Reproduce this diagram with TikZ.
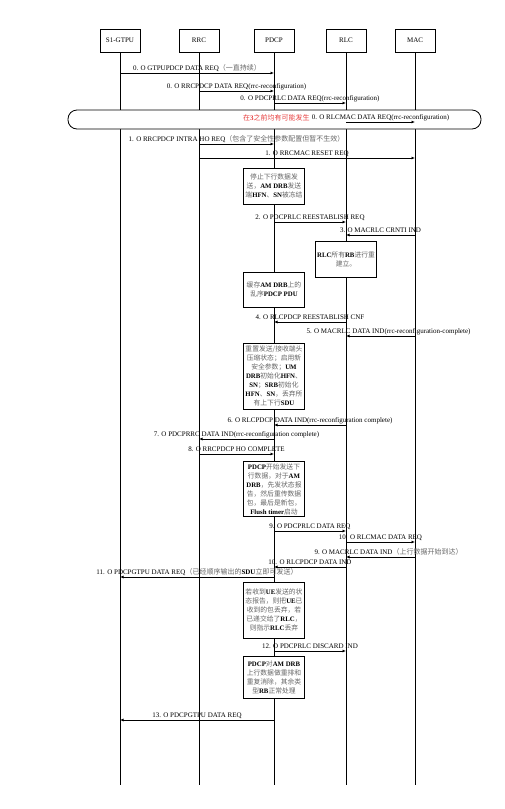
\documentclass[tikz,border=0pt]{standalone}
\usepackage{fontspec}
\setmainfont{Liberation Serif}
\newfontfamily\cjk{Noto Sans CJK SC}
\usetikzlibrary{arrows.meta,positioning}
\definecolor{warnred}{RGB}{232,64,64}
\newcommand{\zh}[1]{{\cjk\color{black!60}#1}}
\tikzset{
  head/.style={draw, line width=1pt, minimum width=40, minimum height=23, font=\fontsize{7}{8}\selectfont},
  life/.style={line width=1pt},
  msg/.style={-{Latex[length=3.5pt,width=3pt]}, line width=0.8pt},
  lbl/.style={above, midway, inner sep=0.5pt, font=\fontsize{7}{8}\selectfont, text height=5pt, text depth=1.5pt},
  note/.style={draw, line width=1pt, fill=white, align=center, minimum width=61, font=\fontsize{6.8}{9}\selectfont, inner sep=1.5pt},
}
\begin{document}
\begin{tikzpicture}[x=1pt, y=-1pt]
\useasboundingbox (0,0) rectangle (504,809);
% entities and lifelines
\node[head] (s1) at (120,40.5) {S1-GTPU};
\node[head] (rrc) at (199,40.5) {RRC};
\node[head] (pdcp) at (274,40.5) {PDCP};
\node[head] (rlc) at (346,40.5) {RLC};
\node[head] (mac) at (415,40.5) {MAC};
\coordinate (bottom) at (0,785);
\foreach \n in {s1,rrc,pdcp,rlc,mac}
  \draw[life] (\n.south) -- (\n |- bottom);

% step 0
\draw[msg] (s1 |- 0,73) -- (pdcp |- 0,73) node[lbl] {0. O GTPUPDCP DATA REQ\zh{（一直持续）}};
\draw[msg] (rrc |- 0,91) -- (pdcp |- 0,91) node[lbl] {0. O RRCPDCP DATA REQ(rrc-reconfiguration)};
\draw[msg] (pdcp |- 0,103) -- (rlc |- 0,103) node[lbl] {0. O PDCPRLC DATA REQ(rrc-reconfiguration)};
\node[draw, line width=0.8pt, fill=white, rounded corners=9, minimum width=413, minimum height=19] (frame) at (274.5,119.5) {};
\draw[msg] (rlc |- 0,122) -- (mac |- 0,122) node[lbl] (m0d) {0. O RLCMAC DATA REQ(rrc-reconfiguration)};
\node[anchor=east, inner sep=1pt, text=warnred, font=\fontsize{7}{8}\selectfont] (warn) at (m0d.west) {{\cjk 在}\textbf{3}{\cjk 之前均有可能发生}};

% handover
\draw[msg] (rrc |- 0,144) -- (pdcp |- 0,144) node[lbl] {1. O RRCPDCP INTRA HO REQ\zh{（包含了安全性参数配置但暂不生效）}};
\draw[msg] (rrc |- 0,158) -- (mac |- 0,158) node[lbl] {1. O RRCMAC RESET REQ};
\node[note, minimum height=36] (n1) at (pdcp |- 0,186) {\zh{停止下行数据发}\\\zh{送，}\textbf{AM DRB}\zh{发送}\\\zh{端}\textbf{HFN}\zh{、}\textbf{SN}\zh{被冻结}};
\draw[msg] (pdcp |- 0,222) -- (rlc |- 0,222) node[lbl] {2. O PDCPRLC REESTABLISH REQ};
\draw[msg] (mac |- 0,235) -- (rlc |- 0,235) node[lbl] {3. O MACRLC CRNTI IND};
\node[note, minimum height=36] (n2) at (rlc |- 0,259) {\textbf{RLC}\zh{所有}\textbf{RB}\zh{进行重}\\\zh{建立。}};
\node[note, minimum height=35] (n3) at (pdcp |- 0,289.5) {\zh{缓存}\textbf{AM DRB}\zh{上的}\\\zh{乱序}\textbf{PDCP PDU}};
\draw[msg] (rlc |- 0,322) -- (pdcp |- 0,322) node[lbl] {4. O RLCPDCP REESTABLISH CNF};
\draw[msg] (mac |- 0,336) -- (rlc |- 0,336) node[lbl, xshift=8] {5. O MACRLC DATA IND(rrc-reconfiguration-complete)};
\node[note, minimum height=66] (n4) at (pdcp |- 0,376) {\zh{重置发送/接收端头}\\\zh{压缩状态；启用新}\\\zh{安全参数；}\textbf{UM}\\\textbf{DRB}\zh{初始化}\textbf{HFN}\zh{、}\\\textbf{SN}\zh{；}\textbf{SRB}\zh{初始化}\\\textbf{HFN}\zh{、}\textbf{SN}\zh{，丢弃所}\\\zh{有上下行}\textbf{SDU}};
\draw[msg] (rlc |- 0,425) -- (pdcp |- 0,425) node[lbl] {6. O RLCPDCP DATA IND(rrc-reconfiguration complete)};
\draw[msg] (pdcp |- 0,439) -- (rrc |- 0,439) node[lbl] {7. O PDCPRRC DATA IND(rrc-reconfiguration complete)};
\draw[msg] (rrc |- 0,454) -- (pdcp |- 0,454) node[lbl] {8. O RRCPDCP HO COMPLETE};
\node[note, minimum height=54] (n5) at (pdcp |- 0,489) {\textbf{PDCP}\zh{开始发送下}\\\zh{行数据，对于}\textbf{AM}\\\textbf{DRB}\zh{，先发状态报}\\\zh{告，然后重传数据}\\\zh{包，最后是新包，}\\\textbf{Flush timer}\zh{启动}};

% data flow
\draw[msg] (pdcp |- 0,531) -- (rlc |- 0,531) node[lbl] {9. O PDCPRLC DATA REQ};
\draw[msg] (rlc |- 0,542) -- (mac |- 0,542) node[lbl] {10. O RLCMAC DATA REQ};
\draw[msg] (mac |- 0,557) -- (rlc |- 0,557) node[lbl, xshift=8] {9. O MACRLC DATA IND\zh{（上行数据开始到达）}};
\draw[msg] (rlc |- 0,567) -- (pdcp |- 0,567) node[lbl] {10. O RLCPDCP DATA IND};
\draw[msg] (pdcp |- 0,577) -- (s1 |- 0,577) node[lbl] {11. O PDCPGTPU DATA REQ\zh{（已经顺序输出的}\textbf{SDU}\zh{立即可发送）}};
\node[note, minimum height=56] (n6) at (pdcp |- 0,610) {\zh{若收到}\textbf{UE}\zh{发送的状}\\\zh{态报告，则把}\textbf{UE}\zh{已}\\\zh{收到的包丢弃，若}\\\zh{已递交给了}\textbf{RLC}\zh{，}\\\zh{则指示}\textbf{RLC}\zh{丢弃}};
\draw[msg] (pdcp |- 0,651) -- (rlc |- 0,651) node[lbl] {12. O PDCPRLC DISCARD IND};
\node[note, minimum height=42] (n7) at (pdcp |- 0,677) {\textbf{PDCP}\zh{对}\textbf{AM DRB}\\\zh{上行数据做重排和}\\\zh{重复消除，其余类}\\\zh{型}\textbf{RB}\zh{正常处理}};
\draw[msg] (pdcp |- 0,720) -- (s1 |- 0,720) node[lbl] {13. O PDCPGTPU DATA REQ};
\end{tikzpicture}
\end{document}
